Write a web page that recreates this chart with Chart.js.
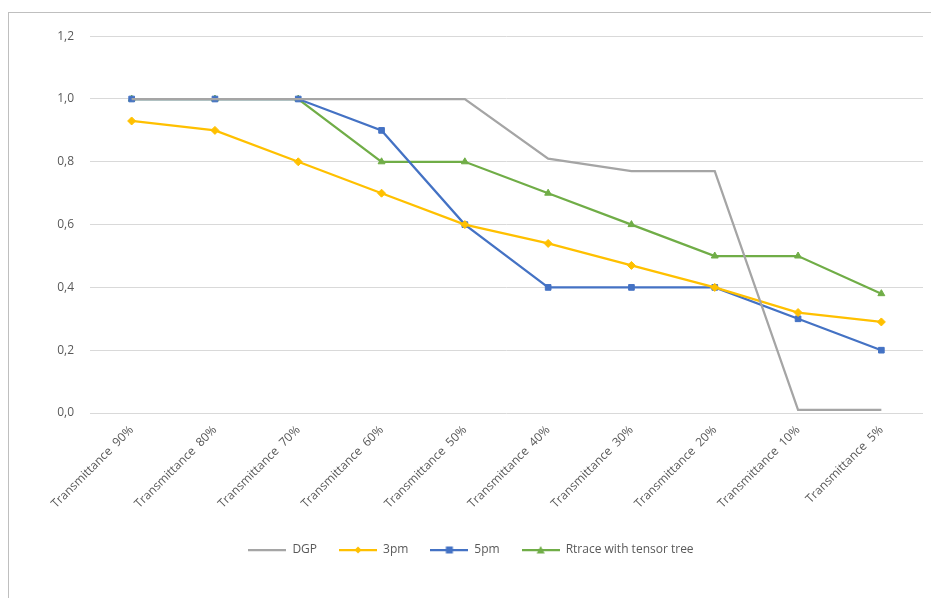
<!DOCTYPE html>
<html>
<head>
<meta charset="utf-8">
<script src="https://cdn.jsdelivr.net/npm/chart.js@4.4.0/dist/chart.umd.min.js"></script>
<style>
  html, body { margin: 0; padding: 0; background: #fff; }
  #frame {
    position: absolute; left: 8px; top: 12px; width: 940px; height: 600px;
    border-left: 1px solid #bfbfbf; border-top: 1px solid #bfbfbf;
  }
  #wrap { position: absolute; left: 9px; top: 13px; width: 922px; height: 585px; }
</style>
</head>
<body>
<div id="frame"></div>
<div id="wrap"><canvas id="chart"></canvas></div>
<script>
const categories = ['Transmittance  90%', 'Transmittance  80%', 'Transmittance  70%', 'Transmittance  60%',
  'Transmittance  50%', 'Transmittance  40%', 'Transmittance  30%', 'Transmittance  20%',
  'Transmittance  10%', 'Transmittance  5%'];
const dgp = [1.0, 1.0, 1.0, 1.0, 1.0, 0.81, 0.77, 0.77, 0.01, 0.01];
const pm3 = [0.93, 0.90, 0.80, 0.70, 0.60, 0.54, 0.47, 0.40, 0.32, 0.29];
const pm5 = [1.0, 1.0, 1.0, 0.90, 0.60, 0.40, 0.40, 0.40, 0.30, 0.20];
const rtrace = [1.0, 1.0, 1.0, 0.80, 0.80, 0.70, 0.60, 0.50, 0.50, 0.38];
const yTicks = [0, 0.2, 0.4, 0.6, 0.8, 1.0, 1.2];

const textColor = '#595959';
const fontFamily = "'Open Sans', 'Noto Sans', sans-serif";

// legend icon: short line with the marker in the middle, like Excel
function legendIcon(color, shape) {
  const c = document.createElement('canvas');
  c.width = 38; c.height = 10;
  const g = c.getContext('2d');
  g.strokeStyle = color; g.lineWidth = 2.25;
  g.beginPath(); g.moveTo(0, 5); g.lineTo(38, 5); g.stroke();
  g.fillStyle = color;
  if (shape === 'rectRot') {
    g.beginPath(); g.moveTo(19, 1.5); g.lineTo(22.5, 5); g.lineTo(19, 8.5); g.lineTo(15.5, 5); g.closePath(); g.fill();
  } else if (shape === 'rect') {
    g.fillRect(15.5, 1.5, 7, 7);
  } else if (shape === 'triangle') {
    g.beginPath(); g.moveTo(19, 1); g.lineTo(23, 8.5); g.lineTo(15, 8.5); g.closePath(); g.fill();
  }
  return c;
}

const series = [
  { label: 'DGP', data: dgp, color: '#a5a5a5', shape: false },
  { label: '3pm', data: pm3, color: '#ffc000', shape: 'rectRot' },
  { label: '5pm', data: pm5, color: '#4472c4', shape: 'rect' },
  { label: 'Rtrace with tensor tree', data: rtrace, color: '#70ad47', shape: 'triangle' }
];

const ctx = document.getElementById('chart').getContext('2d');
const chart = new Chart(ctx, {
  type: 'line',
  data: {
    labels: categories,
    datasets: series.map(s => ({
      label: s.label,
      data: s.data,
      borderColor: s.color,
      backgroundColor: s.color,
      borderWidth: 2.25,
      pointStyle: s.shape,
      pointRadius: s.shape ? 4 : 0,
      pointBorderWidth: 1,
      tension: 0,
      fill: false
    }))
  },
  options: {
    responsive: true,
    maintainAspectRatio: false,
    animation: false,
    layout: { padding: { top: 22, right: 8, bottom: 32, left: 10 } },
    plugins: {
      tooltip: { enabled: false },
      legend: {
        position: 'bottom',
        labels: {
          color: textColor,
          font: { family: fontFamily, size: 12 },
          usePointStyle: true,
          pointStyleWidth: 38,
          boxHeight: 10,
          padding: 22,
          generateLabels: function (ch) {
            return series.map((s, i) => ({
              text: s.label,
              fontColor: textColor,
              pointStyle: legendIcon(s.color, s.shape),
              fillStyle: s.color,
              strokeStyle: s.color,
              lineWidth: 0,
              datasetIndex: i
            }));
          }
        }
      }
    },
    scales: {
      x: {
        grid: { display: false },
        border: { display: false },
        offset: true,
        ticks: {
          color: textColor,
          font: { family: fontFamily, size: 12 },
          minRotation: 45,
          maxRotation: 45,
          padding: 2
        },
        afterFit: function (scale) { scale.height = 109; }
      },
      y: {
        min: 0,
        max: 1.2,
        afterBuildTicks: function (scale) { scale.ticks = yTicks.map(v => ({ value: v })); },
        grid: { color: '#d9d9d9', lineWidth: 1, drawTicks: false },
        border: { display: false },
        ticks: {
          color: textColor,
          font: { family: fontFamily, size: 12 },
          padding: 16,
          callback: v => v.toFixed(1).replace('.', ',')
        },
        afterFit: function (scale) { scale.width = 71; }
      }
    }
  }
});
</script>
</body>
</html>
